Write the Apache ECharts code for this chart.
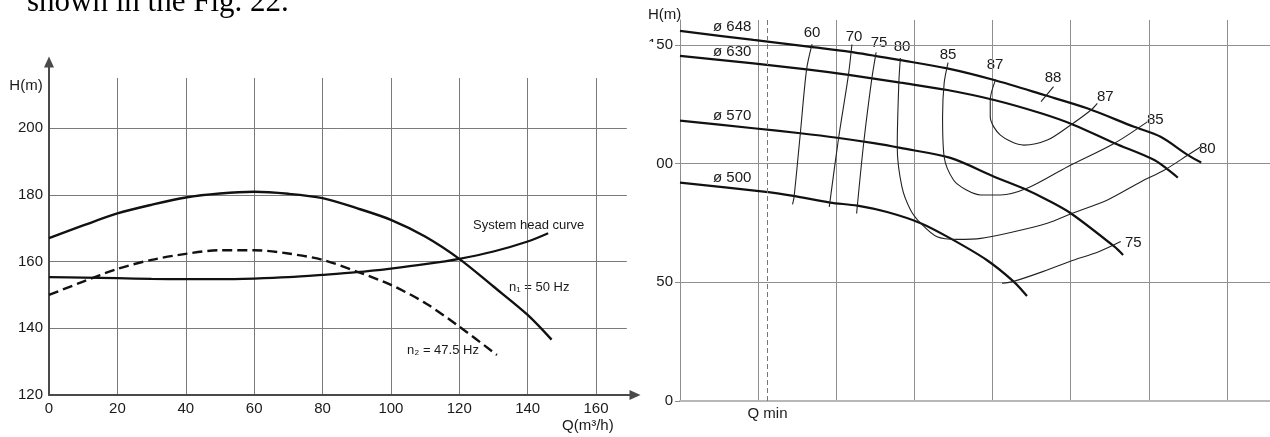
<!DOCTYPE html>
<html>
<head>
<meta charset="utf-8">
<script src="https://cdn.jsdelivr.net/npm/echarts@6/dist/echarts.min.js"></script>
<style>
  html, body { margin: 0; padding: 0; background: #fff; }
  #perf { position: absolute; left: 0; top: 0; width: 1270px; height: 437px; }
  #vfd { position: absolute; left: 0; top: 0; width: 656px; height: 437px;
         background: linear-gradient(to bottom, rgba(255,255,255,0) 42px, #fff 42px); }
</style>
</head>
<body>
<div id="perf"></div>
<div id="vfd"></div>
<script>
// ---------- Variable speed operation (left figure) ----------
const flowN1 = [0, 10, 20, 30, 40, 50, 60, 70, 80, 90, 100, 110, 120, 130, 140, 147];
const headN1 = [167, 170.8, 174.4, 177, 179.2, 180.4, 180.9, 180.3, 179, 176, 172.5, 167.5, 160.8, 152.5, 144, 136.6];
const flowN2 = [0, 10, 20, 30, 40, 50, 60, 70, 80, 90, 100, 110, 120, 131];
const headN2 = [150, 154, 157.8, 160.5, 162.3, 163.4, 163.4, 162.4, 160.5, 157, 153, 147.6, 140.5, 132];
const flowSys = [0, 10, 20, 30, 40, 50, 60, 70, 80, 90, 100, 110, 120, 130, 140, 146];
const headSys = [155.3, 155.2, 155, 154.8, 154.7, 154.7, 154.9, 155.3, 156, 156.8, 157.9, 159.2, 160.8, 163, 166, 168.5];
const flowTicks = { min: 0, max: 169, step: 20 };
const headTicks = { min: 120, max: 215, step: 20 };

// ---------- Impeller diameters and efficiency map (right figure) ----------
const imp648 = [[0,155.9],[0.94,152.1],[1.67,149.2],[2.18,147.1],[2.82,143.6],[3.42,140.1],[4.02,135.2],[4.66,128.9],[5.21,123.3],[5.81,115.5],[6.15,111.3],[6.5,103.6],[6.67,100.5]];
const imp630 = [[0,145.4],[0.94,142.2],[1.62,139.7],[2.18,137.3],[2.82,134.1],[3.42,131.0],[4.02,126.8],[4.62,121.2],[5.04,116.3],[5.56,108.6],[6.07,101.5],[6.37,94.1]];
const imp570 = [[0,118.1],[0.94,114.9],[1.54,112.8],[2.01,110.9],[2.48,108.6],[2.82,106.6],[3.46,102.4],[4.02,94.5],[4.44,88.9],[4.7,84.7],[5.0,79.1],[5.56,65.0],[5.67,61.5]];
const imp500 = [[0,92.0],[1.07,88.2],[1.45,86.4],[1.92,83.6],[2.27,82.3],[2.65,79.6],[3.08,74.9],[3.46,68.5],[3.92,59.5],[4.27,50.3],[4.44,44.2]];
const eff60 = [[1.69,150.3],[1.62,139.7],[1.54,112.8],[1.46,86.0],[1.44,82.8]];
const eff70 = [[2.2,150.2],[2.155,137.3],[2.03,110.9],[1.91,81.8]];
const eff75 = [[2.51,146.9],[2.455,135.9],[2.35,108.5],[2.26,79.0]];
const eff80 = [[2.82,144.5],[2.8,133.8],[2.78,107.1],[2.84,90.2],[2.95,80.5],[3.08,74.9],[3.29,69.2],[3.55,68.1],[3.85,68.5],[4.27,71.3],[4.7,74.9],[5.02,79.1],[5.47,84.7],[5.9,92.4],[6.2,97.3],[6.5,103.6],[6.66,107.0]];
const eff85 = [[3.43,142.5],[3.38,133.8],[3.36,119.8],[3.38,102.9],[3.5,93.1],[3.66,89.0],[3.85,86.8],[4.1,86.8],[4.44,89.6],[4.96,98.7],[5.56,108.6],[5.98,117.6]];
const eff87 = [[4.04,135.5],[3.97,126.8],[3.97,119.8],[4.1,112.0],[4.4,107.8],[4.7,109.9],[5.0,116.3],[5.26,122.6],[5.34,125.4]];
const eff88 = [[4.62,126.1],[4.78,132.4]];
const eff75b = [[4.12,49.6],[4.27,50.4],[4.65,54.6],[5.02,59.2],[5.35,62.8],[5.64,67.2]];
const qMin = 1.12;
const mapX = { min: 0, max: 7.55, step: 1 };
const mapH = { min: 0, max: 160.5, step: 50 };

const FONT = "'Liberation Sans', Arial, 'DejaVu Sans', sans-serif";
const INK = '#1a1a1a';

function txt(x, y, s, opt) {
  return Object.assign({
    type: 'text', x: x, y: y, silent: true,
    style: Object.assign({ text: s, fill: INK, font: '15px ' + FONT, textAlign: 'left', textVerticalAlign: 'middle' }, opt || {})
  });
}

// ----- right: performance map (full window, underneath) -----
const perf = echarts.init(document.getElementById('perf'), null, { renderer: 'canvas' });
function curve(data, width, color) {
  return {
    type: 'line', data: data, showSymbol: false, smooth: 0.3, silent: true,
    lineStyle: { color: color || '#111', width: width }, z: 3
  };
}
perf.setOption({
  animation: false,
  grid: { left: 680, top: 20, right: 0, bottom: 36 },
  xAxis: {
    type: 'value', min: mapX.min, max: mapX.max, interval: mapX.step,
    axisLine: { show: true, lineStyle: { color: '#b8b8b8', width: 2 } },
    axisTick: { show: false }, axisLabel: { show: false },
    splitLine: { show: true, showMaxLine: false, lineStyle: { color: '#8e8e8e', width: 1 } }
  },
  yAxis: {
    type: 'value', min: mapH.min, max: mapH.max, interval: mapH.step,
    axisLine: { show: true, lineStyle: { color: '#8e8e8e', width: 1 } },
    axisTick: { show: true, length: 5, lineStyle: { color: '#8e8e8e' } },
    axisLabel: { margin: 7, fontSize: 15, color: INK, fontFamily: FONT, showMaxLabel: false },
    splitLine: { show: true, showMaxLine: false, lineStyle: { color: '#8e8e8e', width: 1 } }
  },
  series: [
    curve(imp648, 2.2), curve(imp630, 2.2), curve(imp570, 2.2), curve(imp500, 2.2),
    curve(eff60, 1.1, '#222'), curve(eff70, 1.1, '#222'), curve(eff75, 1.1, '#222'),
    curve(eff80, 1.1, '#222'), curve(eff85, 1.1, '#222'), curve(eff87, 1.1, '#222'),
    curve(eff88, 1.1, '#222'), curve(eff75b, 1.1, '#222'),
    {
      type: 'line', data: [], silent: true,
      markLine: {
        silent: true, symbol: 'none', animation: false,
        lineStyle: { color: '#777', type: [5, 3], width: 1 },
        label: { show: true, position: 'start', formatter: 'Q min', color: INK, fontSize: 15, fontFamily: FONT, distance: 5 },
        data: [{ xAxis: qMin }]
      }
    }
  ],
  graphic: [
    txt(27, 3, 'shown in the Fig. 22.', { font: "31px 'Liberation Serif', 'Times New Roman', serif", fill: '#000' }),
    txt(648, 15, 'H(m)'),
    txt(713, 27, 'ø 648'), txt(713, 52, 'ø 630'), txt(713, 116, 'ø 570'), txt(713, 178, 'ø 500'),
    txt(812, 33, '60', { textAlign: 'center' }),
    txt(854, 37, '70', { textAlign: 'center' }),
    txt(879, 43, '75', { textAlign: 'center' }),
    txt(902, 47, '80', { textAlign: 'center' }),
    txt(948, 55, '85', { textAlign: 'center' }),
    txt(995, 65, '87', { textAlign: 'center' }),
    txt(1053, 78, '88', { textAlign: 'center' }),
    txt(1097, 97, '87'), txt(1147, 120, '85'), txt(1199, 149, '80'), txt(1125, 243, '75')
  ]
});

// ----- left: variable speed operating points (drawn on top) -----
const vfd = echarts.init(document.getElementById('vfd'), null, { renderer: 'canvas' });
function zip(a, b) { return a.map(function (v, i) { return [v, b[i]]; }); }
vfd.setOption({
  animation: false,
  grid: [
    { left: 49, top: 78, right: 29.2, bottom: 42 },
    { left: 49, top: 62, right: 21, bottom: 42 }
  ],
  xAxis: [
    {
      type: 'value', gridIndex: 0, min: flowTicks.min, max: flowTicks.max, interval: flowTicks.step,
      axisLine: { show: false }, axisTick: { show: false },
      axisLabel: { margin: 6, fontSize: 15, color: INK, fontFamily: FONT, showMaxLabel: false },
      splitLine: { show: true, showMaxLine: false, showMinLine: false, lineStyle: { color: '#7a7a7a', width: 1 } }
    },
    {
      type: 'value', gridIndex: 1, min: 0, max: 1, show: true,
      axisLine: { show: true, symbol: ['none', 'triangle'], symbolSize: [10, 11], lineStyle: { color: '#4a4a4a', width: 2 } },
      axisTick: { show: false }, axisLabel: { show: false }, splitLine: { show: false }
    }
  ],
  yAxis: [
    {
      type: 'value', gridIndex: 0, min: headTicks.min, max: headTicks.max, interval: headTicks.step,
      axisLine: { show: false }, axisTick: { show: false },
      axisLabel: { margin: 6, fontSize: 15, color: INK, fontFamily: FONT, showMaxLabel: false },
      splitLine: { show: true, showMaxLine: false, showMinLine: false, lineStyle: { color: '#7a7a7a', width: 1 } }
    },
    {
      type: 'value', gridIndex: 1, min: 0, max: 1, show: true,
      axisLine: { show: true, symbol: ['none', 'triangle'], symbolSize: [10, 11], lineStyle: { color: '#4a4a4a', width: 2 } },
      axisTick: { show: false }, axisLabel: { show: false }, splitLine: { show: false }
    }
  ],
  series: [
    { type: 'line', data: zip(flowN1, headN1), showSymbol: false, smooth: 0.3, silent: true, lineStyle: { color: '#111', width: 2.4 }, z: 3 },
    { type: 'line', data: zip(flowN2, headN2), showSymbol: false, smooth: 0.3, silent: true, lineStyle: { color: '#111', width: 2.4, type: [10, 5] }, z: 3 },
    { type: 'line', data: zip(flowSys, headSys), showSymbol: false, smooth: 0.3, silent: true, lineStyle: { color: '#111', width: 2.2 }, z: 3 }
  ],
  graphic: [
    txt(26, 86, 'H(m)', { textAlign: 'center' }),
    txt(562, 426, 'Q(m³/h)'),
    txt(473, 225, 'System head curve', { font: '13px ' + FONT }),
    txt(509, 287, 'n₁ = 50 Hz', { font: '13px ' + FONT }),
    txt(407, 350, 'n₂ = 47.5 Hz', { font: '13px ' + FONT })
  ]
});
</script>
</body>
</html>
